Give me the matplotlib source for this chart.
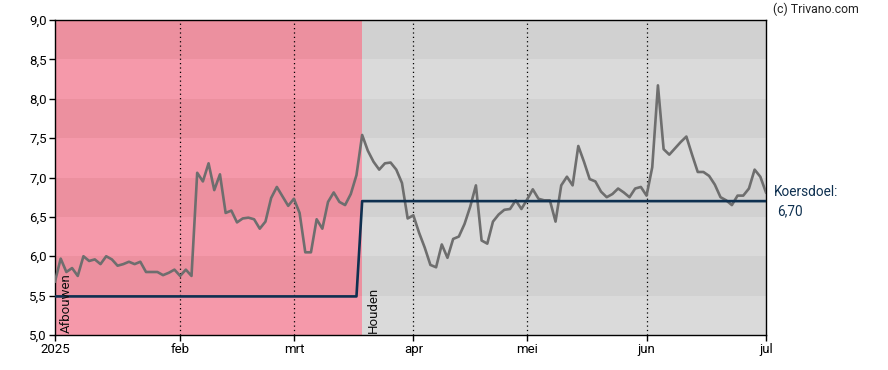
import matplotlib
matplotlib.use("Agg")
import matplotlib.pyplot as plt
import numpy as np

# Closing prices per trading day (Jan 2 - Jul 1 2025), evenly spaced on the x axis
prices = [
    5.68, 5.97, 5.80, 5.85, 5.75, 6.00, 5.94, 5.96, 5.90, 6.00,
    5.96, 5.88, 5.90, 5.93, 5.90, 5.93, 5.80, 5.80, 5.80, 5.76,
    5.79, 5.83, 5.75, 5.83, 5.75, 7.06, 6.95, 7.18, 6.84, 7.04,
    6.55, 6.58, 6.43, 6.48, 6.49, 6.47, 6.35, 6.44, 6.74, 6.88,
    6.76, 6.64, 6.73, 6.55, 6.05, 6.05, 6.47, 6.35, 6.69, 6.81,
    6.69, 6.65, 6.79, 7.03, 7.54, 7.34, 7.20, 7.10, 7.18, 7.19,
    7.10, 6.93, 6.48, 6.52, 6.30, 6.11, 5.89, 5.86, 6.15, 5.98,
    6.22, 6.25, 6.41, 6.63, 6.90, 6.20, 6.16, 6.44, 6.53, 6.59,
    6.60, 6.71, 6.60, 6.72, 6.85, 6.73, 6.71, 6.71, 6.44, 6.90,
    7.01, 6.90, 7.40, 7.20, 6.98, 6.95, 6.82, 6.75, 6.79, 6.86,
    6.81, 6.75, 6.86, 6.88, 6.77, 7.13, 8.17, 7.36, 7.29, 7.37,
    7.45, 7.52, 7.29, 7.07, 7.07, 7.02, 6.91, 6.75, 6.71, 6.65,
    6.77, 6.77, 6.86, 7.10, 7.01, 6.81,
]

# Analyst target (koersdoel) per trading day
target_before = 5.49
target_after = 6.70
target_change_idx = 54   # index of first day with new advice

# Advice periods: (start index, end index, label)
periods = [(0, 54, "Afbouwen"), (54, 125, "Houden")]
period_colors = [("#F599AA", "#EC909F"), ("#DADADA", "#D1D1D1")]

# Month ticks: index of first trading day in each month
month_tick_idx = [0, 22, 42, 63, 83, 104, 125]
month_labels = ["2025", "feb", "mrt", "apr", "mei", "jun", "jul"]

yticks = [5.0, 5.5, 6.0, 6.5, 7.0, 7.5, 8.0, 8.5, 9.0]
ytick_labels = ["5,0", "5,5", "6,0", "6,5", "7,0", "7,5", "8,0", "8,5", "9,0"]

plt.rcParams['font.family'] = ['Roboto', 'DejaVu Sans']

fig = plt.figure(figsize=(8.88, 3.70), dpi=100)
ax = fig.add_axes([55/888, 35/370, 711/888, 315/370])

n = len(prices)
x = np.arange(n)
ymin, ymax = 5.0, 9.0

# Background bands per period
for (s, e, lab), (light, dark) in zip(periods, period_colors):
    for k in range(len(yticks) - 1):
        lo, hi = yticks[k], yticks[k + 1]
        col = dark if k % 2 == 1 else light
        ax.fill_between([s, e], lo, hi, color=col, lw=0, zorder=0)
    ax.text(s + 0.8, ymin + 0.03, lab, rotation=90, ha='left', va='bottom',
            fontsize=9.5, color='#111111', zorder=5)

# month dotted lines
for t in month_tick_idx[1:-1]:
    ax.axvline(t, color='black', lw=0.9, ls=(0, (1, 2.5)), zorder=1)

# price line
ax.plot(x, prices, color='#6E6E6E', lw=1.9, zorder=3)

# target line (stepped with a slanted transition)
tx = [0, target_change_idx - 1, target_change_idx, n - 1]
ty = [target_before, target_before, target_after, target_after]
ax.plot(tx, ty, color='#0E3050', lw=1.9, zorder=4)

ax.set_xlim(0, n - 1)
ax.set_ylim(ymin, ymax)
ax.set_yticks(yticks)
ax.set_yticklabels(ytick_labels)
ax.set_xticks(month_tick_idx)
ax.set_xticklabels(month_labels)
ax.tick_params(axis='both', labelsize=9.5, length=4, width=1, colors='black',
               pad=2)
for sp in ax.spines.values():
    sp.set_color('black')
    sp.set_linewidth(1)

fig.text(774/888, 1 - 192/370, "Koersdoel:", ha='left', va='center',
         fontsize=9.8, color='#0E3050')
fig.text(777/888, 1 - 211/370, "6,70", ha='left', va='center',
         fontsize=9.8, color='#0E3050')
fig.text(773/888, 1 - 9/370, "(c) Trivano.com", ha='left', va='center',
         fontsize=8.8, color='#222222')

fig.savefig("out.png", dpi=100)
